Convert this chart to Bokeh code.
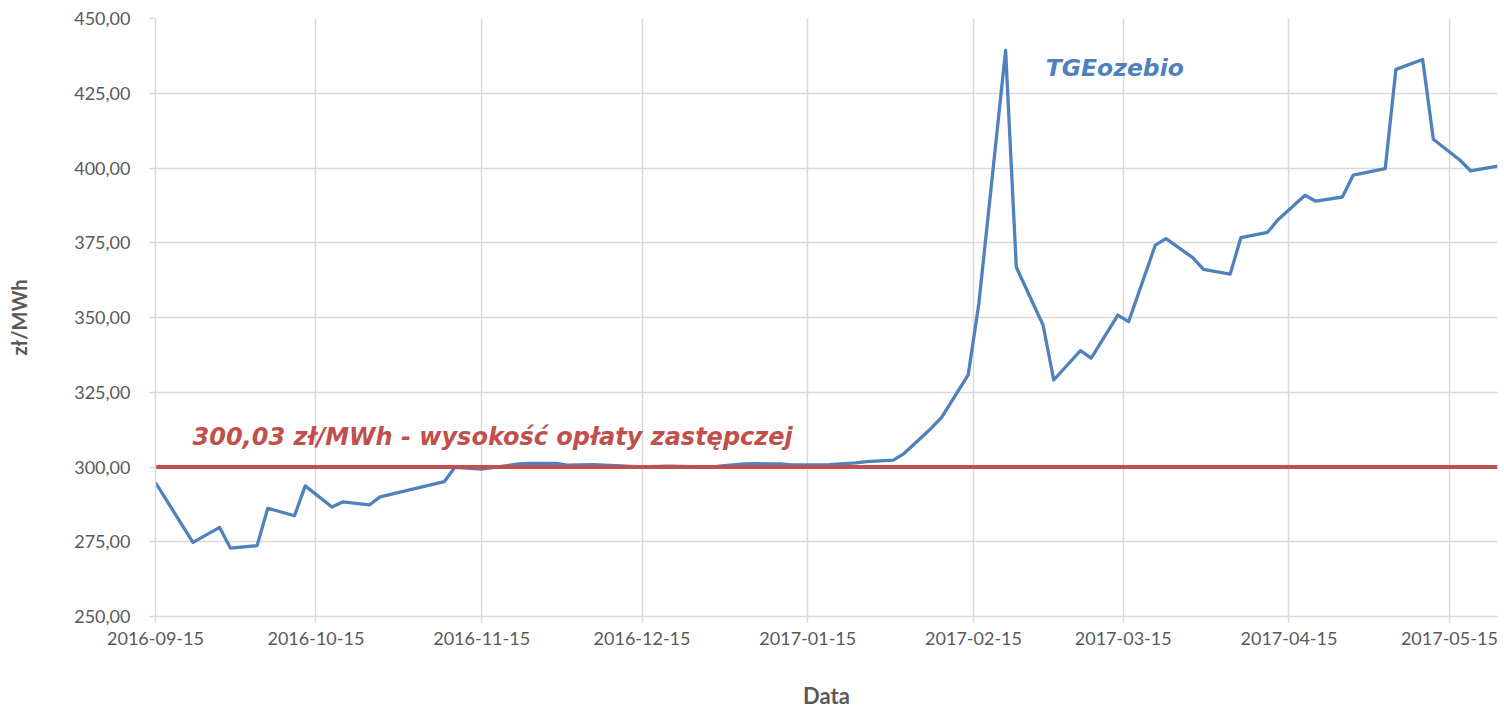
import pandas as pd
from bokeh.plotting import figure
from bokeh.models import ColumnDataSource, FixedTicker, DatetimeTickFormatter, Label, Range1d
from bokeh.embed import file_html
from bokeh.resources import INLINE

# ---- data ----
dates = ["2016-09-15", "2016-09-22", "2016-09-27", "2016-09-29",
         "2016-10-04", "2016-10-06", "2016-10-11", "2016-10-13", "2016-10-18", "2016-10-20", "2016-10-25", "2016-10-27",
         "2016-11-08", "2016-11-10", "2016-11-15", "2016-11-17", "2016-11-22", "2016-11-24", "2016-11-29",
         "2016-12-01", "2016-12-06", "2016-12-08", "2016-12-13", "2016-12-15", "2016-12-20", "2016-12-22", "2016-12-27", "2016-12-29",
         "2017-01-03", "2017-01-05", "2017-01-10", "2017-01-12", "2017-01-17", "2017-01-19", "2017-01-24", "2017-01-26", "2017-01-31",
         "2017-02-02", "2017-02-07", "2017-02-09", "2017-02-14", "2017-02-16", "2017-02-21", "2017-02-23", "2017-02-28",
         "2017-03-02", "2017-03-07", "2017-03-09", "2017-03-14", "2017-03-16", "2017-03-21", "2017-03-23", "2017-03-28", "2017-03-30",
         "2017-04-04", "2017-04-06", "2017-04-11", "2017-04-13", "2017-04-18", "2017-04-20", "2017-04-25", "2017-04-27",
         "2017-05-03", "2017-05-05", "2017-05-10", "2017-05-12", "2017-05-17", "2017-05-19", "2017-05-24"]
tgeozebio = [294.8, 274.8, 279.8, 272.9,
             273.7, 286.2, 283.7, 293.7, 286.6, 288.3, 287.3, 290.0,
             295.1, 299.9, 299.3, 299.8, 301.0, 301.2, 301.2,
             300.6, 300.8, 300.6, 300.2, 300.0, 300.3, 300.2, 300.0, 300.2,
             301.0, 301.1, 301.0, 300.7, 300.7, 300.8, 301.4, 301.8, 302.3,
             304.5, 312.8, 316.5, 330.8, 354.7, 439.3, 366.8, 347.5,
             329.1, 338.9, 336.4, 350.8, 348.6, 374.2, 376.4, 370.0, 366.1,
             364.5, 376.7, 378.5, 382.8, 390.9, 388.9, 390.3, 397.6,
             399.8, 433.0, 436.3, 409.6, 402.6, 399.0, 400.6]
oplata_zastepcza = 300.03

x_tick_dates = ["2016-09-15", "2016-10-15", "2016-11-15", "2016-12-15", "2017-01-15",
                "2017-02-15", "2017-03-15", "2017-04-15", "2017-05-15"]
y_ticks = [250, 275, 300, 325, 350, 375, 400, 425, 450]
y_labels = ["250,00", "275,00", "300,00", "325,00", "350,00", "375,00", "400,00", "425,00", "450,00"]

series_label = "TGEozebio"
threshold_label = "300,03 zł/MWh - wysokość opłaty zastępczej"
x_title = "Data"
y_title = "zł/MWh"

# ---- build ----
dt = pd.to_datetime(dates)
src = ColumnDataSource(dict(x=dt, y=tgeozebio, t=[oplata_zastepcza] * len(dates)))

def ms(s):
    return pd.Timestamp(s).timestamp() * 1000.0

p = figure(width=1504, height=711, x_axis_type="datetime", output_backend="svg",
           toolbar_location=None, min_border_left=155, min_border_right=7,
           min_border_top=18, min_border_bottom=94)
p.x_range = Range1d(ms(dates[0]), ms(dates[-1]))
p.y_range = Range1d(250, 450)
p.outline_line_color = None
p.background_fill_color = "white"
p.border_fill_color = "white"

p.line("x", "y", source=src, line_color="#4F81BD", line_width=3.3, line_join="round")
p.line("x", "t", source=src, line_color="#C0504D", line_width=4)

grid_col = "#D9D9D9"
p.xaxis.ticker = FixedTicker(ticks=[ms(d) for d in x_tick_dates])
fmt = "%Y-%m-%d"
p.xaxis.formatter = DatetimeTickFormatter(milliseconds=fmt, seconds=fmt, minsec=fmt, minutes=fmt,
                                          hourmin=fmt, hours=fmt, days=fmt, months=fmt, years=fmt)
p.yaxis.ticker = FixedTicker(ticks=y_ticks)
p.yaxis.major_label_overrides = {t: l for t, l in zip(y_ticks, y_labels)}

for ax in (p.xaxis, p.yaxis):
    ax.axis_line_color = grid_col
    ax.axis_line_width = 1.5
    ax.major_tick_line_color = grid_col
    ax.major_tick_line_width = 1.5
    ax.major_tick_in = 0
    ax.major_tick_out = 6
    ax.minor_tick_line_color = None
    ax.major_label_text_font = "Lato"
    ax.major_label_text_font_size = "18px"
    ax.major_label_text_color = "#595959"
    ax.axis_label_text_font = "Lato"
    ax.axis_label_text_font_style = "bold"
    ax.axis_label_text_color = "#595959"

p.xaxis.major_label_standoff = 9
p.yaxis.major_label_standoff = 19
p.xaxis.axis_label = x_title
p.yaxis.axis_label = y_title
p.xaxis.axis_label_text_font_size = "22px"
p.yaxis.axis_label_text_font_size = "20px"
p.xaxis.axis_label_standoff = 34
p.yaxis.axis_label_standoff = 40

p.xgrid.ticker = p.xaxis.ticker
p.ygrid.ticker = p.yaxis.ticker
p.xgrid.grid_line_color = grid_col
p.ygrid.grid_line_color = grid_col
p.xgrid.grid_line_width = 1.5
p.ygrid.grid_line_width = 1.5

p.add_layout(Label(x=ms("2017-02-28 12:00"), y=433.6, text=series_label,
                   text_font="DejaVu Sans", text_font_style="bold italic", text_font_size="23.5px",
                   text_color="#4F81BD", text_baseline="middle", text_align="left"))
p.add_layout(Label(x=ms("2016-09-21 22:00"), y=310.1, text=threshold_label,
                   text_font="DejaVu Sans", text_font_style="bold italic", text_font_size="24px",
                   text_color="#C0504D", text_baseline="middle", text_align="left"))

open("out.html", "w").write(file_html(p, INLINE))
